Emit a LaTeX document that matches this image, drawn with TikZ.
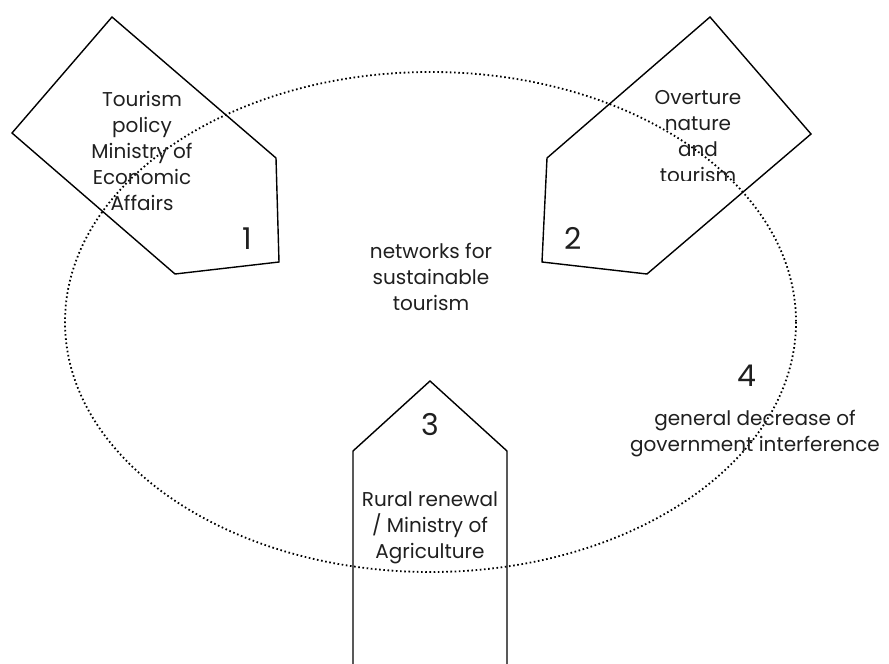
\documentclass[tikz,border=0pt]{standalone}
\usepackage{fontspec}
\setmainfont{Poppins}
\begin{document}
\begin{tikzpicture}[x=1pt,y=-1pt,
  shapeline/.style={draw=black,line width=1.4pt,line join=miter},
  fieldline/.style={draw=black,line width=1.8pt,dash pattern=on 1.6pt off 2.6pt},
  label/.style={inner sep=0pt,align=center,font=\fontsize{20}{26}\selectfont,text=black!88},
  digit/.style={inner sep=0pt,font=\fontsize{30}{34}\selectfont,text=black!88}]
\useasboundingbox (0,0) rectangle (889,664);

% dotted field of the networks
\draw[fieldline] (430.5,322) ellipse [x radius=365.5, y radius=250];

% policy field 1
\draw[shapeline] (112,17) -- (276,158) -- (279,262) -- (175,274) -- (12,133) -- cycle;
% policy field 2
\draw[shapeline] (710,17) -- (811,134) -- (647,274) -- (542,262) -- (547,158) -- cycle;
% policy field 3, running off the bottom edge
\draw[shapeline] (353,664) -- (353,451) -- (430,381) -- (507,451) -- (507,664);

\node[label] (t1) at (142,151) {Tourism\\policy\\Ministry of\\Economic\\Affairs};
\begin{scope}
  \clip (600,0) rectangle (800,180);
  \node[label] (t2) at (698,137) {Overture\\nature\\and\\tourism};
\end{scope}
\node[label] (t3) at (430,528) {Rural renewal\\/ Ministry of\\Agriculture};
\node[label] (tc) at (431,277) {networks for\\sustainable\\tourism};
\node[label] (t4) at (755,434) {general decrease of\\government interference};

\node[digit] (n1) at (247,239) {1};
\node[digit] (n2) at (573,238) {2};
\node[digit] (n3) at (430,425) {3};
\node[digit] (n4) at (747,376) {4};
\end{tikzpicture}
\end{document}
